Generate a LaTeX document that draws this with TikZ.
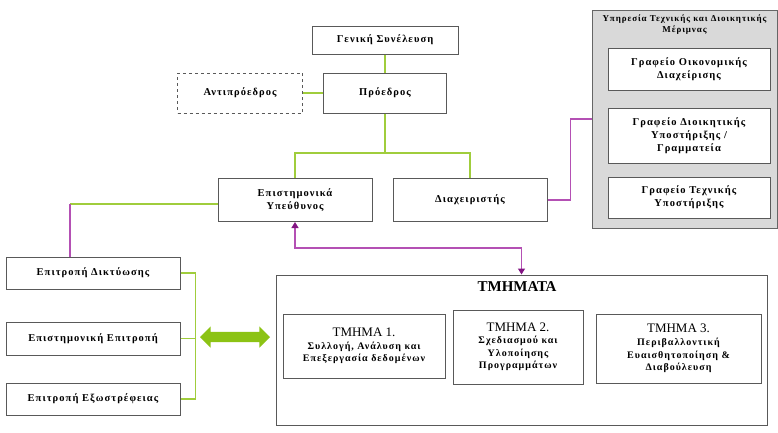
\documentclass[tikz,border=0pt]{standalone}
\usepackage{fontspec}
\setmainfont[LetterSpace=10]{Liberation Serif}
\newfontfamily\plainserif{Liberation Serif}
\usetikzlibrary{arrows.meta,shapes.arrows}
\definecolor{lime}{RGB}{160,205,60}
\definecolor{limefill}{RGB}{140,195,20}
\definecolor{purp}{RGB}{180,80,180}
\definecolor{purpdark}{RGB}{130,20,130}
\begin{document}
\begin{tikzpicture}[x=1pt,y=-1pt]
        \tikzstyle{unit}=[rectangle,draw=black!65,line width=1pt,fill=white,align=center,font=\fontsize{10.5}{13}\selectfont\bfseries,inner sep=2pt]
        \tikzstyle{dept}=[unit,font=\fontsize{10}{12.5}\selectfont\bfseries]
        \tikzstyle{gline}=[draw=lime, line width=1.2pt]
        \tikzstyle{pline}=[draw=purp, line width=1.2pt]
        \tikzstyle{ptip}=[{Triangle[width=7pt,length=6pt,color=purpdark]}-{Triangle[width=7pt,length=6pt,color=purpdark]}]
        \useasboundingbox (0,0) rectangle (778,432);
       \begin{scope}
         % top of the chart
         \node [unit,minimum width=146,minimum height=28] (gen) at (385,40) {Γενική Συνέλευση};
         \node [unit,minimum width=123,minimum height=40] (pro) at (385,93) {Πρόεδρος};
         \node [unit,dashed,minimum width=125,minimum height=40] (anti) at (240,93) {Αντιπρόεδρος};
         \node [unit,minimum width=154,minimum height=43] (epi) at (295,200) {Επιστημονικά\\Υπεύθυνος};
         \node [unit,minimum width=154,minimum height=43] (diax) at (470,200) {Διαχειριστής};
         \coordinate (split) at (385,153);
         \path[gline] (gen) -- (pro);
         \path[gline] (anti) -- (pro);
         \path[gline] (pro.south) -- (split);
         \path[gline] (split) -| (epi.north);
         \path[gline] (split) -| (diax.north);

         % services on the right
         \node [rectangle,draw=black!60,line width=1pt,fill=black!15,minimum width=185,minimum height=218] (ypir) at (684.5,119) {};
         \node [align=center,font=\fontsize{9}{11}\selectfont\bfseries] (ypirt) at (684.5,25) {Υπηρεσία Τεχνικής και Διοικητικής\\Μέριμνας};
         \node [unit,minimum width=162,minimum height=42] (graf1) at (689,69) {Γραφείο Οικονομικής\\Διαχείρισης};
         \node [unit,minimum width=162,minimum height=55] (graf2) at (689,135.5) {Γραφείο Διοικητικής\\Υποστήριξης /\\Γραμματεία};
         \node [unit,minimum width=162,minimum height=41] (graf3) at (689,197.5) {Γραφείο Τεχνικής\\Υποστήριξης};
         \path[pline] (diax.east) -- ++(23,0) |- (ypir.west);

         % committees on the left
         \node [unit,minimum width=174,minimum height=32] (dikt) at (93,273) {Επιτροπή Δικτύωσης};
         \node [unit,minimum width=174,minimum height=33] (epis) at (93,338.5) {Επιστημονική Επιτροπή};
         \node [unit,minimum width=174,minimum height=32] (exo) at (93,399) {Επιτροπή Εξωστρέφειας};
         \coordinate (kl) at (70,204);
         \path[gline] (epi.west |- kl) -- (kl);
         \path[pline] (kl) -- (kl |- dikt.north);
         \path[gline] (dikt.east) -- ++(15,0) |- (exo.east);
         \path[gline] (epis.east) -- ++(15,0);
         \node [double arrow,fill=limefill,draw=none,minimum height=70,inner xsep=0pt,inner ysep=5pt,double arrow head extend=5.5pt] (darr) at (235,337) {};

         % departments
         \node [rectangle,draw=black!65,line width=1pt,minimum width=491,minimum height=150] (tmhm) at (521.5,350) {};
         \node [font=\plainserif\fontsize{15}{17}\selectfont\bfseries] (tmhmt) at (517,287) {ΤΜΗΜΑΤΑ};
         \node [dept,minimum width=162,minimum height=64] (t1) at (364,346) {{\plainserif\fontsize{13}{15}\selectfont\mdseries ΤΜΗΜΑ 1.}\\Συλλογή, Ανάλυση και\\Επεξεργασία δεδομένων};
         \node [dept,minimum width=130,minimum height=74] (t2) at (518,347) {{\plainserif\fontsize{13}{15}\selectfont\mdseries ΤΜΗΜΑ 2.}\\Σχεδιασμού και\\Υλοποίησης\\Προγραμμάτων};
         \node [dept,minimum width=165,minimum height=69] (t3) at (678.5,348.5) {{\plainserif\fontsize{13}{15}\selectfont\mdseries ΤΜΗΜΑ 3.}\\Περιβαλλοντική\\Ευαισθητοποίηση \&\\Διαβούλευση};
         \coordinate (bend) at (521.5,248);
         \path[pline,ptip] (epi.south) |- (bend) -- (tmhm.north);
        \end{scope}
      \end{tikzpicture}
\end{document}
